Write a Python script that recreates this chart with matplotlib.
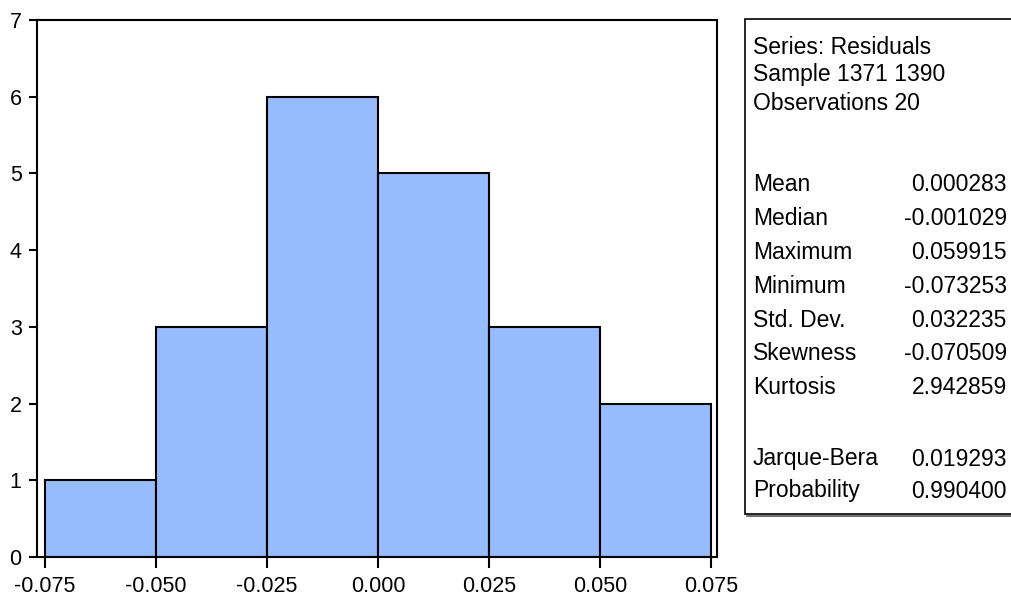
import matplotlib
matplotlib.use("Agg")
import matplotlib.pyplot as plt
from matplotlib.patches import Rectangle

# histogram of residuals (EViews style)
bin_edges = [-0.075, -0.050, -0.025, 0.000, 0.025, 0.050, 0.075]
counts = [1, 3, 6, 5, 3, 2]
xtick_labels = ["-0.075", "-0.050", "-0.025", "0.000", "0.025", "0.050", "0.075"]

header_lines = ["Series: Residuals", "Sample 1371 1390", "Observations 20"]
stat_names = ["Mean", "Median", "Maximum", "Minimum", "Std. Dev.", "Skewness", "Kurtosis"]
stat_values = ["0.000283", "-0.001029", "0.059915", "-0.073253", "0.032235", "-0.070509", "2.942859"]
test_names = ["Jarque-Bera", "Probability"]
test_values = ["0.019293", "0.990400"]

plt.rcParams["font.family"] = ["Liberation Sans Narrow", "Liberation Sans", "DejaVu Sans"]

W, H = 1011, 601
fig = plt.figure(figsize=(W / 100, H / 100), dpi=100)
ax = fig.add_axes([37 / W, 1 - 557 / H, 680 / W, 537 / H])

widths = [bin_edges[i + 1] - bin_edges[i] for i in range(len(counts))]
ax.bar(bin_edges[:-1], counts, width=widths, align="edge",
       color="#96bcfe", edgecolor="black", linewidth=1.5)

ax.set_xlim(-0.0768, 0.07635)
ax.set_ylim(0, 7)
ax.set_xticks(bin_edges)
ax.set_xticklabels(xtick_labels)
ax.set_yticks(range(0, 8))
ax.tick_params(axis="both", direction="out", width=1.5, labelsize=15.5, colors="black")
ax.tick_params(axis="x", length=8, pad=6)
ax.tick_params(axis="y", length=6, pad=5)
for s in ax.spines.values():
    s.set_linewidth(1.5)

# stats box
def fx(px):
    return px / W

def fy(py):
    return 1 - py / H

box = Rectangle((fx(745), fy(514)), fx(300), 495 / H, transform=fig.transFigure,
                facecolor="white", edgecolor="black", linewidth=1.2, clip_on=False)
fig.add_artist(box)
fig.add_artist(plt.Line2D([fx(747), fx(1011)], [fy(516), fy(516)],
                          transform=fig.transFigure, color="#555555", linewidth=1.2))

fs = 16.5
for i, t in enumerate(header_lines):
    fig.text(fx(753), fy(47 + 28 * i), t, fontsize=fs, va="center", ha="left")
for i, (n, v) in enumerate(zip(stat_names, stat_values)):
    y = fy(185 + 33.8 * i)
    fig.text(fx(753), y, n, fontsize=fs, va="center", ha="left")
    fig.text(fx(1007), y, v, fontsize=fs, va="center", ha="right")
for i, (n, v) in enumerate(zip(test_names, test_values)):
    y = fy(459 + 32 * i)
    fig.text(fx(753), y, n, fontsize=fs, va="center", ha="left")
    fig.text(fx(1007), y, v, fontsize=fs, va="center", ha="right")

fig.savefig("out.png", dpi=100)
